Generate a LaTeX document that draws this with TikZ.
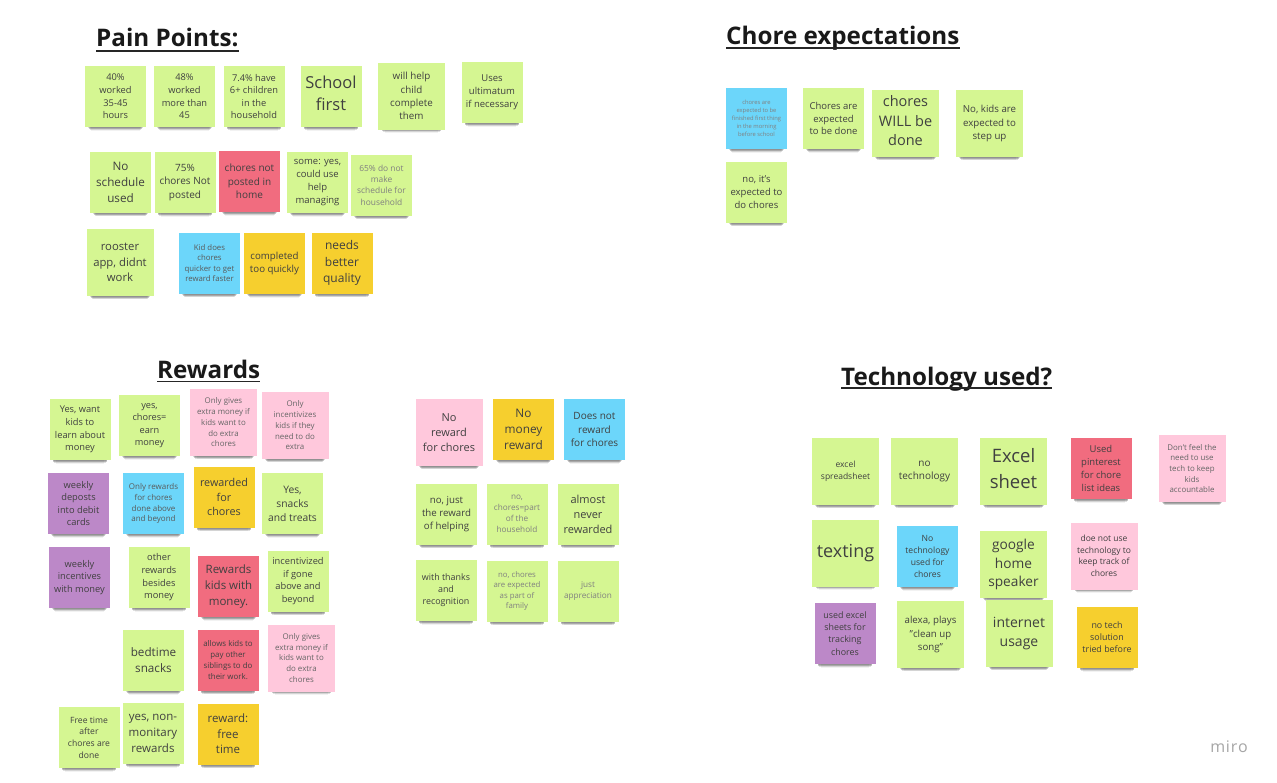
\documentclass[tikz,border=0pt]{standalone}
\usepackage{fontspec}
\setmainfont{Open Sans}
\usetikzlibrary{shadows}
\definecolor{notegreen}{HTML}{D5F692}
\definecolor{notepink}{HTML}{FFC8DC}
\definecolor{notered}{HTML}{F16C7F}
\definecolor{noteyellow}{HTML}{F6CF2E}
\definecolor{noteblue}{HTML}{6CD6FA}
\definecolor{notepurple}{HTML}{BC88C8}
\tikzset{
	fs/.style={font=\fontsize{#1}{#1}\selectfont\setlength\baselineskip{1.36\dimexpr#1pt\relax}},
	softshadow/.style={
		general shadow={shadow xshift=0pt,shadow yshift=-4.5pt,shadow scale=.9,fill=black,opacity=.14},
		general shadow={shadow xshift=0pt,shadow yshift=-7pt,shadow scale=.87,fill=black,opacity=.2},
		general shadow={shadow xshift=0pt,shadow yshift=-9.4pt,shadow scale=.84,fill=black,opacity=.12},
		general shadow={shadow xshift=0pt,shadow yshift=-12.4pt,shadow scale=.8,fill=black,opacity=.05}},
	note/.style={shape=rectangle,align=center,inner sep=0pt,minimum width=61,minimum height=61,softshadow,text=black!75},
	bignote/.style={minimum width=67,minimum height=67},
	pale/.style={text=black!50},
	lift/.style={text depth=#1},
	greennote/.style={note,fill=notegreen},
	pinknote/.style={note,fill=notepink,text=black!60},
	rednote/.style={note,fill=notered},
	yellownote/.style={note,fill=noteyellow},
	bluenote/.style={note,fill=noteblue,text=black!65},
	purplenote/.style={note,fill=notepurple},
	titlenode/.style={font=\fontsize{24.2}{26}\selectfont\bfseries,text=black!90,inner sep=0pt,anchor=base west},
	titleline/.style={line width=1.6pt,black!85}
}
\begin{document}
\begin{tikzpicture}[x=1pt,y=-1pt]
	\fill[white,use as bounding box] (0,0) rectangle (1277,782); %page

	%Pain points-----------------------------------------------
	\node[titlenode] (painTitle) at (96,46.5) {Pain Points:};
	\draw[titleline] ([yshift=-4.2pt]painTitle.base west) -- ([yshift=-4.2pt]painTitle.base east);
	\node[greennote,fs=9.3] (p40) at (115.5,96.5) {40\%\\worked\\35-45\\hours};
	\node[greennote,fs=9.3] (p48) at (184.5,96.5) {48\%\\worked\\more than\\45};
	\node[greennote,fs=9.3] (pChildren) at (254,96.5) {7.4\% have\\6+ children\\in the\\household};
	\node[greennote,fs=16.5,lift=6pt] (pSchool) at (331,96.5) {School\\first};
	\node[greennote,bignote,fs=9.8] (pHelp) at (411.5,96) {will help\\child\\complete\\them};
	\node[greennote,fs=9.5] (pUltimatum) at (492,92.5) {Uses\\ultimatum\\if necessary};
	\node[greennote,fs=11.7] (pSchedule) at (120.5,182) {No\\schedule\\used};
	\node[greennote,fs=10] (p75) at (185,182.5) {75\%\\chores Not\\posted};
	\node[rednote,fs=10] (pPosted) at (249.5,181.5) {chores not\\posted in\\home};
	\node[greennote,fs=9.5] (pSome) at (317.5,182.5) {some: yes,\\could use\\help\\managing};
	\node[greennote,pale,fs=8.4] (p65) at (381.5,185) {65\% do not\\make\\schedule for\\household};
	\node[greennote,bignote,fs=11.3] (pRooster) at (120,262.5) {rooster\\app, didnt\\work};
	\node[bluenote,fs=7.8] (pKid) at (209.5,263) {Kid does\\chores\\quicker to get\\reward faster};
	\node[yellownote,fs=9.7] (pCompleted) at (274.5,263.5) {completed\\too quickly};
	\node[yellownote,fs=12] (pNeeds) at (342,263) {needs\\better\\quality};

	%Chore expectations----------------------------------------
	\node[titlenode] (choreTitle) at (726,44) {Chore expectations};
	\draw[titleline] ([yshift=-3.8pt]choreTitle.base west) -- ([yshift=-3.8pt]choreTitle.base east);
	\node[bluenote,pale,fs=5.8] (cFinished) at (756.5,118.5) {chores are\\expected to be\\finished first thing\\in the morning\\before school};
	\node[greennote,fs=9.5] (cDone) at (833.5,118.5) {Chores are\\expected\\to be done};
	\node[greennote,bignote,fs=14.5,lift=6pt] (cWill) at (905.5,123.5) {chores\\WILL be\\done};
	\node[greennote,bignote,fs=9.7] (cStep) at (989.5,123.5) {No, kids are\\expected to\\step up};
	\node[greennote,fs=9.5] (cNo) at (756.5,192) {no, it's\\expected to\\do chores};

	%Rewards---------------------------------------------------
	\node[titlenode] (rewardTitle) at (157,378) {Rewards};
	\draw[titleline] ([yshift=-3.5pt]rewardTitle.base west) -- ([yshift=-3.5pt]rewardTitle.base east);
	\node[greennote,fs=9.3] (rLearn) at (80,429.5) {Yes, want\\kids to\\learn about\\money};
	\node[greennote,fs=9.2] (rEarn) at (149.5,425.5) {yes,\\chores=\\earn\\money};
	\node[pinknote,bignote,fs=7.9] (rExtra) at (223.5,422.5) {Only gives\\extra money if\\kids want to\\do extra\\chores};
	\node[pinknote,bignote,fs=7.9] (rNeed) at (295,425.5) {Only\\incentivizes\\kids if they\\need to do\\extra};
	\node[purplenote,fs=9.3] (rDebit) at (78.5,503.5) {weekly\\deposts\\into debit\\cards};
	\node[bluenote,fs=8] (rAbove) at (153.5,503.5) {Only rewards\\for chores\\done above\\and beyond};
	\node[yellownote,fs=10.8] (rChores) at (224,497) {rewarded\\for\\chores};
	\node[greennote,fs=10.3] (rSnacks) at (292.5,503.5) {Yes,\\snacks\\and treats};
	\node[purplenote,fs=9.3] (rWeekly) at (79.5,577.5) {weekly\\incentives\\with money};
	\node[greennote,fs=9.3] (rOther) at (159,577.5) {other\\rewards\\besides\\money};
	\node[rednote,fs=11.5] (rMoney) at (228.5,586.5) {Rewards\\kids with\\money.};
	\node[greennote,fs=9.3] (rGone) at (298,581) {incentivized\\if gone\\above and\\beyond};
	\node[greennote,fs=11.7] (rBedtime) at (153.5,660.5) {bedtime\\snacks};
	\node[rednote,fs=7.9] (rPay) at (228,660) {allows kids to\\pay other\\siblings to do\\their work.};
	\node[pinknote,bignote,fs=7.9] (rExtraTwo) at (301.5,658) {Only gives\\extra money if\\kids want to\\do extra\\chores};
	\node[greennote,fs=8.6] (rFree) at (89,737.5) {Free time\\after\\chores are\\done};
	\node[greennote,fs=11.5] (rMonitary) at (153,733.5) {yes, non-\\monitary\\rewards};
	\node[yellownote,fs=11.5] (rTime) at (228,734) {reward:\\free\\time};

	%no reward
	\node[pinknote,bignote,fs=11,text=black!75] (nChores) at (449,432.5) {No\\reward\\for chores};
	\node[yellownote,fs=11.8] (nMoney) at (523.5,429.5) {No\\money\\reward};
	\node[bluenote,fs=10,text=black!75] (nNot) at (594.5,429.5) {Does not\\reward\\for chores};
	\node[greennote,fs=9.7] (nHelping) at (446.5,514) {no, just\\the reward\\of helping};
	\node[greennote,pale,fs=8.2] (nPart) at (517,514) {no,\\chores=part\\of the\\household};
	\node[greennote,fs=11] (nNever) at (588,514) {almost\\never\\rewarded};
	\node[greennote,fs=8.9] (nThanks) at (446,590.5) {with thanks\\and\\recognition};
	\node[greennote,pale,fs=7.8] (nFamily) at (517,591) {no, chores\\are expected\\as part of\\family};
	\node[greennote,pale,fs=8.2] (nJust) at (588,591) {just\\appreciation};

	%Technology------------------------------------------------
	\node[titlenode] (techTitle) at (841,385) {Technology used?};
	\draw[titleline] ([yshift=-3pt]techTitle.base west) -- ([yshift=-3pt]techTitle.base east);
	\node[greennote,bignote,fs=8.5] (tSpread) at (845.5,471.5) {excel\\spreadsheet};
	\node[greennote,bignote,fs=10] (tNone) at (924.5,471.5) {no\\technology};
	\node[greennote,bignote,fs=18.5,lift=6pt] (tSheet) at (1013.5,471.5) {Excel\\sheet};
	\node[rednote,fs=9.5] (tPinterest) at (1101,468.5) {Used\\pinterest\\for chore\\list ideas};
	\node[pinknote,bignote,fs=7.9] (tFeel) at (1192,468.5) {Don't feel the\\need to use\\tech to keep\\kids\\accountable};
	\node[greennote,bignote,fs=18] (tTexting) at (845.5,553) {texting};
	\node[bluenote,fs=8.6,text=black!75] (tNoUsed) at (927.5,556.5) {No\\technology\\used for\\chores};
	\node[greennote,bignote,fs=13.7] (tGoogle) at (1013.5,564.5) {google\\home\\speaker};
	\node[pinknote,bignote,fs=8.5,text=black!75] (tTrack) at (1104,556) {doe not use\\technology to\\keep track of\\chores};
	\node[purplenote,fs=8.9] (tTracking) at (845,633.5) {used excel\\sheets for\\tracking\\chores};
	\node[greennote,bignote,fs=9.7] (tAlexa) at (930.5,634.5) {alexa, plays\\"clean up\\song"};
	\node[greennote,bignote,fs=14] (tInternet) at (1019,633.5) {internet\\usage};
	\node[yellownote,fs=8.9] (tNoTech) at (1107,637.5) {no tech\\solution\\tried before};

	%watermark
	\node[text=black!35,inner sep=0pt,font=\fontsize{16}{16}\selectfont,anchor=base east] (miro) at (1248,752) {m\kern.8pt i\kern.8pt r\kern.8pt o};
\end{tikzpicture}
\end{document}
